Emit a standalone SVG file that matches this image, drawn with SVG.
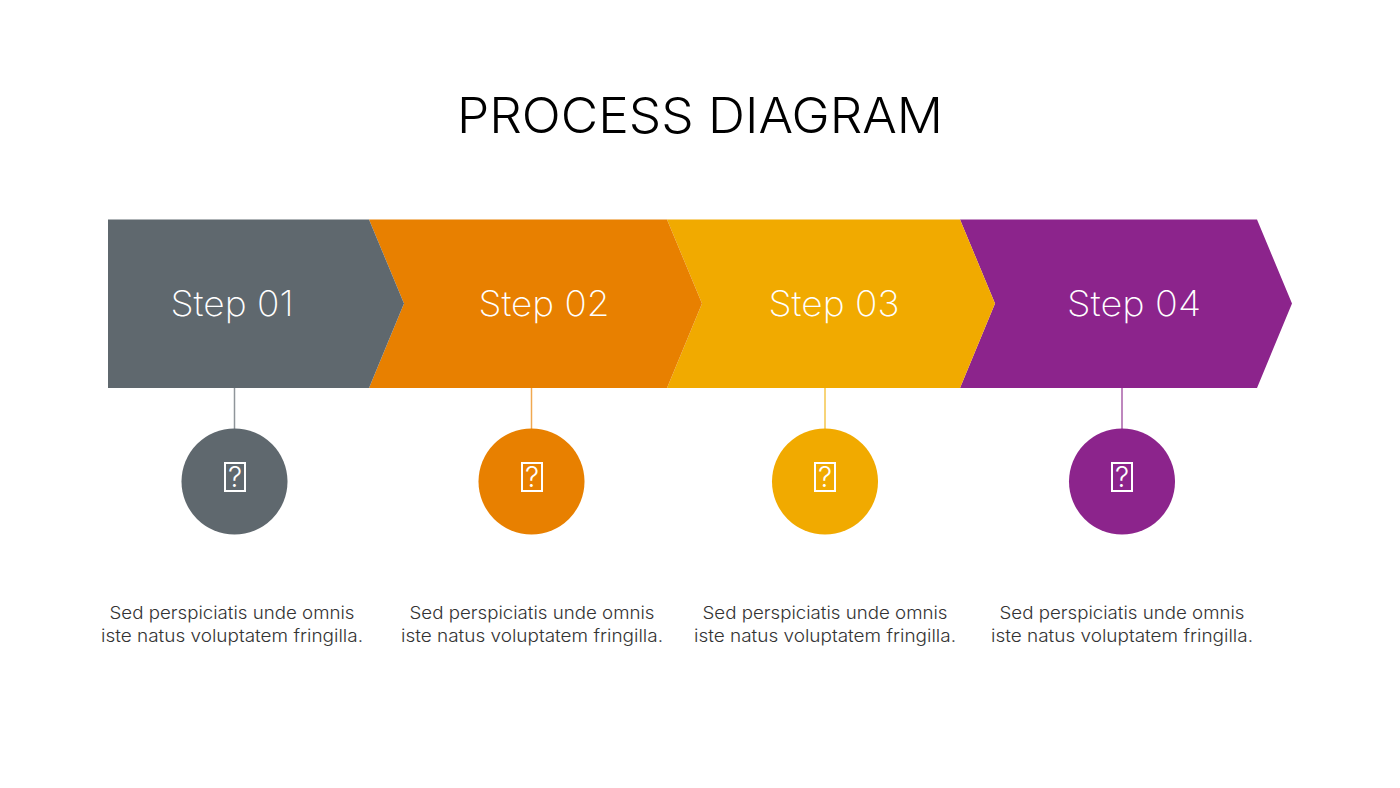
<svg xmlns="http://www.w3.org/2000/svg" width="1400" height="788" viewBox="0 0 1400 788">
<style>
text{font-family:"Inter","Open Sans","Liberation Sans",sans-serif;text-anchor:middle}
.title{font-size:49px;font-weight:300;fill:#000}
.step{font-size:35px;font-weight:200;fill:#fff}
.desc{font-size:17.5px;font-weight:300;fill:#333}
.q{font-size:28px;font-weight:300;fill:#fff}
.box{fill:none;stroke:#fff;stroke-width:2}
.gray{fill:#5f686e}.orange{fill:#e88000}.yellow{fill:#f1aa00}.purple{fill:#8c248c}
.lg{stroke:#8f959a}.lo{stroke:#f0a850}.ly{stroke:#f5c64d}.lp{stroke:#a85fa8}
line{stroke-width:1.5}
</style>
<rect width="1400" height="788" fill="#fff"/>
<text class="title" x="700" y="133" textLength="486" lengthAdjust="spacingAndGlyphs">PROCESS DIAGRAM</text>
<g id="connectors">
<line class="lg" x1="234.500" y1="388" x2="234.500" y2="430"/>
<line class="lo" x1="531.500" y1="388" x2="531.500" y2="430"/>
<line class="ly" x1="825" y1="388" x2="825" y2="430"/>
<line class="lp" x1="1122" y1="388" x2="1122" y2="430"/>
</g>
<g id="step4"><polygon class="purple" points="960,219.500 1257,219.500 1292,303.500 1257,388 960,388 995,303.500"/><text class="step" x="1134" y="316" textLength="134" lengthAdjust="spacingAndGlyphs">Step 04</text></g>
<g id="step3"><polygon class="yellow" points="667,219.500 960,219.500 995,303.500 960,388 667,388 702,303.500"/><text class="step" x="834" y="316" textLength="131" lengthAdjust="spacingAndGlyphs">Step 03</text></g>
<g id="step2"><polygon class="orange" points="369,219.500 667,219.500 702,303.500 667,388 369,388 404,303.500"/><text class="step" x="544" y="316" textLength="131" lengthAdjust="spacingAndGlyphs">Step 02</text></g>
<g id="step1"><polygon class="gray" points="108,219.500 369,219.500 404,303.500 369,388 108,388"/><text class="step" x="232" y="316" textLength="123" lengthAdjust="spacingAndGlyphs">Step 01</text></g>
<g id="icon1"><circle class="gray" cx="234.500" cy="481.500" r="53"/><rect class="box" x="225" y="463" width="20" height="28"/><text class="q" x="235" y="487">?</text></g>
<g id="icon2"><circle class="orange" cx="531.500" cy="481.500" r="53"/><rect class="box" x="522" y="463" width="20" height="28"/><text class="q" x="532" y="487">?</text></g>
<g id="icon3"><circle class="yellow" cx="825" cy="481.500" r="53"/><rect class="box" x="815" y="463" width="20" height="28"/><text class="q" x="825" y="487">?</text></g>
<g id="icon4"><circle class="purple" cx="1122" cy="481.500" r="53"/><rect class="box" x="1112" y="463" width="20" height="28"/><text class="q" x="1122" y="487">?</text></g>
<g id="desc1"><text class="desc" x="232" y="618.500" textLength="245" lengthAdjust="spacingAndGlyphs">Sed perspiciatis unde omnis</text><text class="desc" x="232" y="642" textLength="262" lengthAdjust="spacingAndGlyphs">iste natus voluptatem fringilla.</text></g>
<g id="desc2"><text class="desc" x="532" y="618.500" textLength="245" lengthAdjust="spacingAndGlyphs">Sed perspiciatis unde omnis</text><text class="desc" x="532" y="642" textLength="262" lengthAdjust="spacingAndGlyphs">iste natus voluptatem fringilla.</text></g>
<g id="desc3"><text class="desc" x="825" y="618.500" textLength="245" lengthAdjust="spacingAndGlyphs">Sed perspiciatis unde omnis</text><text class="desc" x="825" y="642" textLength="262" lengthAdjust="spacingAndGlyphs">iste natus voluptatem fringilla.</text></g>
<g id="desc4"><text class="desc" x="1122" y="618.500" textLength="245" lengthAdjust="spacingAndGlyphs">Sed perspiciatis unde omnis</text><text class="desc" x="1122" y="642" textLength="262" lengthAdjust="spacingAndGlyphs">iste natus voluptatem fringilla.</text></g>
</svg>
